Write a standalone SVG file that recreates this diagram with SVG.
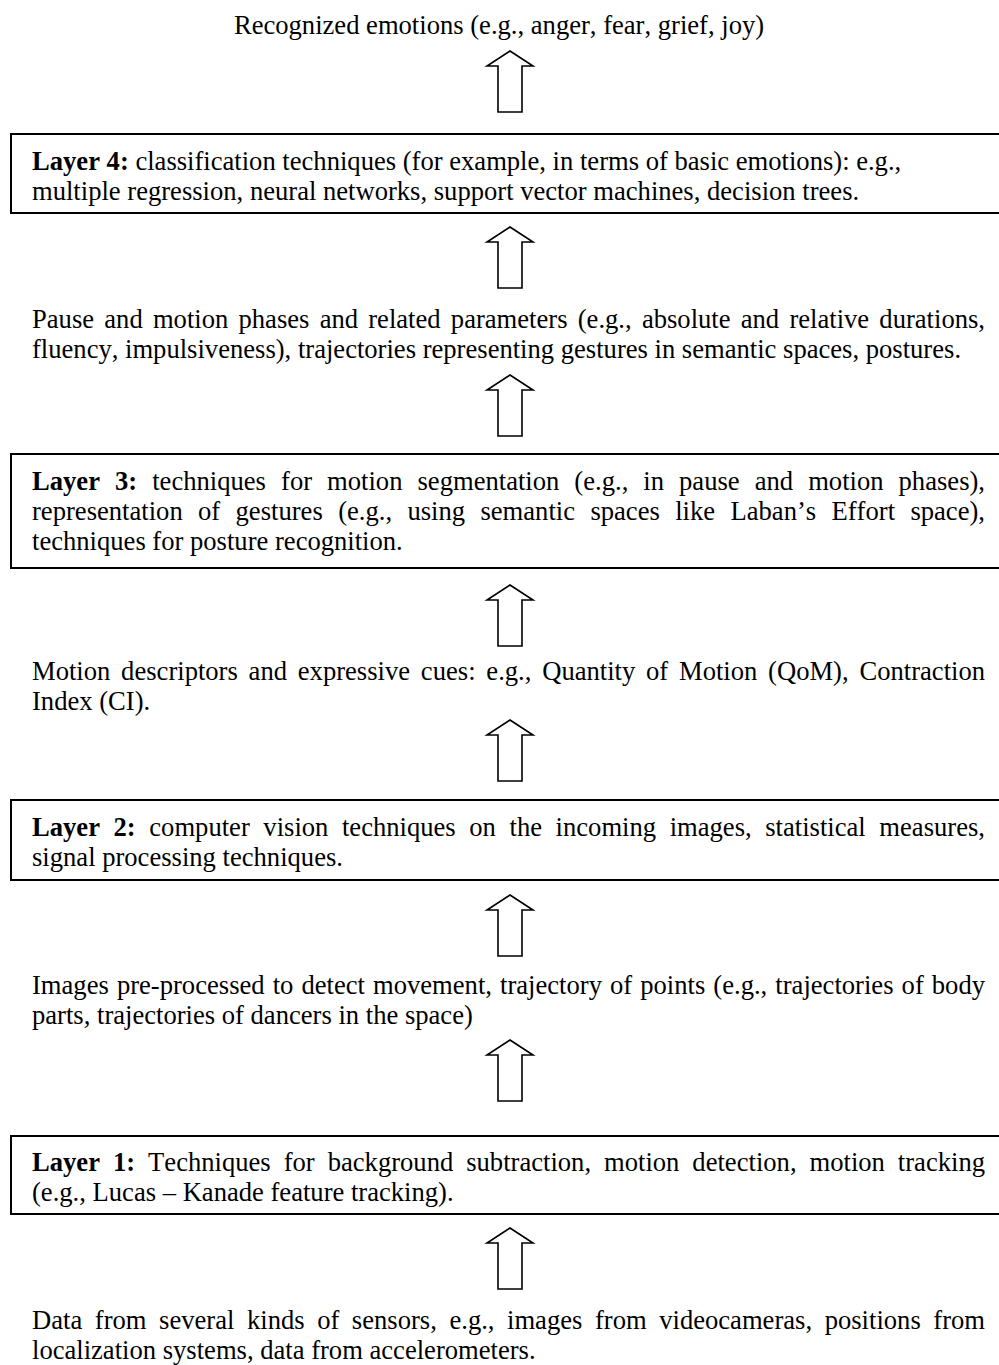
<svg xmlns="http://www.w3.org/2000/svg" width="999" height="1365" viewBox="0 0 999 1365">
  <style>
    text { font-family: "Liberation Serif", "Times New Roman", serif; font-size: 26.6px; fill: #000; font-kerning: none; }
    .b { font-weight: bold; }
    .box { fill: #fff; stroke: #000; stroke-width: 2; }
    .arrow { fill: #fff; stroke: #000; stroke-width: 1.6; stroke-linejoin: miter; }
  </style>
  <defs>
    <!-- hollow up arrow, tip at (0,0), 61 tall -->
    <path id="up" d="M0,0 L23,15 L12,15 L12,61 L-12,61 L-12,15 L-23,15 Z"/>
  </defs>

  <rect width="999" height="1365" fill="#fff"/>

  <!-- connectors: hollow upward arrows between stages -->
  <g id="connectors">
    <use href="#up" class="arrow" x="510" y="51"/>
    <use href="#up" class="arrow" x="510" y="227"/>
    <use href="#up" class="arrow" x="510" y="375"/>
    <use href="#up" class="arrow" x="510" y="585"/>
    <use href="#up" class="arrow" x="510" y="720"/>
    <use href="#up" class="arrow" x="510" y="895"/>
    <use href="#up" class="arrow" x="510" y="1040"/>
    <use href="#up" class="arrow" x="510" y="1228"/>
  </g>

  <g id="output">
    <text x="499" y="34" text-anchor="middle">Recognized emotions (e.g., anger, fear, grief, joy)</text>
  </g>

  <g id="layer4">
    <rect class="box" x="11" y="134" width="1000" height="79"/>
    <text x="32" y="170"><tspan class="b">Layer 4:</tspan> classification techniques (for example, in terms of basic emotions): e.g.,</text>
    <text x="32" y="200">multiple regression, neural networks, support vector machines, decision trees.</text>
  </g>

  <g id="features">
    <text x="32" y="328" word-spacing="3.56" textLength="953" lengthAdjust="spacing">Pause and motion phases and related parameters (e.g., absolute and relative durations,</text>
    <text x="32" y="358">fluency, impulsiveness), trajectories representing gestures in semantic spaces, postures.</text>
  </g>

  <g id="layer3">
    <rect class="box" x="11" y="454" width="1000" height="114"/>
    <text x="32" y="490" word-spacing="8.39" textLength="953" lengthAdjust="spacing"><tspan class="b">Layer 3:</tspan> techniques for motion segmentation (e.g., in pause and motion phases),</text>
    <text x="32" y="520" word-spacing="8.72" textLength="953" lengthAdjust="spacing">representation of gestures (e.g., using semantic spaces like Laban’s Effort space),</text>
    <text x="32" y="550">techniques for posture recognition.</text>
  </g>

  <g id="descriptors">
    <text x="32" y="680" word-spacing="4.13" textLength="953" lengthAdjust="spacing">Motion descriptors and expressive cues: e.g., Quantity of Motion (QoM), Contraction</text>
    <text x="32" y="710">Index (CI).</text>
  </g>

  <g id="layer2">
    <rect class="box" x="11" y="800" width="1000" height="80"/>
    <text x="32" y="836" word-spacing="6.94" textLength="953" lengthAdjust="spacing"><tspan class="b">Layer 2:</tspan> computer vision techniques on the incoming images, statistical measures,</text>
    <text x="32" y="866">signal processing techniques.</text>
  </g>

  <g id="preprocessed">
    <text x="32" y="994" word-spacing="1.42" textLength="953" lengthAdjust="spacing">Images pre-processed to detect movement, trajectory of points (e.g., trajectories of body</text>
    <text x="32" y="1024">parts, trajectories of dancers in the space)</text>
  </g>

  <g id="layer1">
    <rect class="box" x="11" y="1136" width="1000" height="78"/>
    <text x="32" y="1171" word-spacing="6.31" textLength="953" lengthAdjust="spacing"><tspan class="b">Layer 1:</tspan> Techniques for background subtraction, motion detection, motion tracking</text>
    <text x="32" y="1201">(e.g., Lucas – Kanade feature tracking).</text>
  </g>

  <g id="sensors">
    <text x="32" y="1329" word-spacing="5.91" textLength="953" lengthAdjust="spacing">Data from several kinds of sensors, e.g., images from videocameras, positions from</text>
    <text x="32" y="1359">localization systems, data from accelerometers.</text>
  </g>
</svg>
